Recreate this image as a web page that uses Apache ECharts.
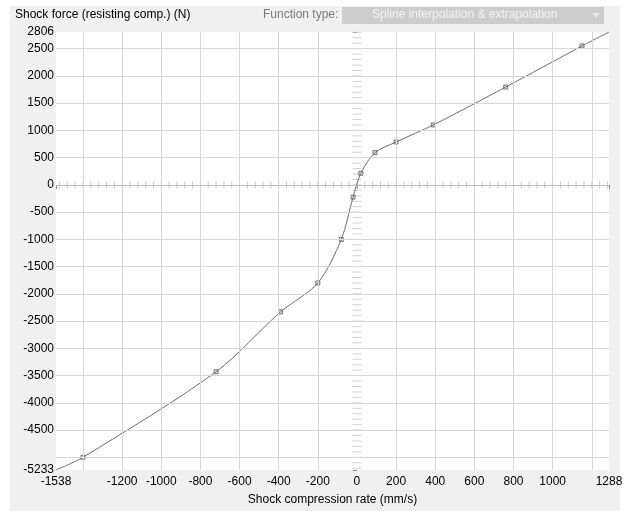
<!DOCTYPE html>
<html><head><meta charset="utf-8">
<script src="https://cdn.jsdelivr.net/npm/echarts@6/dist/echarts.min.js"></script>
<style>
html,body{margin:0;padding:0;background:#fff;}
#bg{position:absolute;left:10px;top:6px;width:610px;height:505px;background:#f0f0f0;}
#chart{position:absolute;left:0;top:0;width:630px;height:511px;}
</style></head>
<body>
<div id="bg"></div>
<div id="chart"></div>
<script>
// Data
const curveX = [-1538, -1400, -720, -390, -200, -80, -20, 20, 92, 200, 390, 760, 1150, 1288];
const curveY = [-5233, -5000, -3430, -2330, -1800, -1000, -225, 214, 591, 787, 1100, 1795, 2550, 2806];
const pointX = [-1400, -720, -390, -200, -80, -20, 20, 92, 200, 390, 760, 1150];
const pointY = [-5000, -3430, -2330, -1800, -1000, -225, 214, 591, 787, 1100, 1795, 2550];
const xLabels = [-1538, -1200, -1000, -800, -600, -400, -200, 0, 200, 400, 600, 800, 1000, 1288];
const yLabels = [2806, 2500, 2000, 1500, 1000, 500, 0, -500, -1000, -1500, -2000, -2500, -3000, -3500, -4000, -4500, -5233];
const xGrid = [-1400, -1200, -1000, -800, -600, -400, -200, 200, 400, 600, 800, 1000, 1200];
const yGrid = [2500, 2000, 1500, 1000, 500, -500, -1000, -1500, -2000, -2500, -3000, -3500, -4000, -4500, -5000];
const xMin = -1538, xMax = 1288, yMin = -5233, yMax = 2806;
const hTickStep = 40, vTickStep = 100;
const hTicks = []; for (let v = -1520; v <= 1280; v += hTickStep) hTicks.push(v);
const vTicks = []; for (let v = -5200; v <= 2800; v += vTickStep) vTicks.push(v);

const chart = echarts.init(document.getElementById('chart'));
const font = 'Liberation Sans, Arial, sans-serif';
chart.setOption({
  animation: false,
  backgroundColor: 'transparent',
  textStyle: {fontFamily: font},
  graphic: [
    {type: 'text', left: 15, top: 9, style: {text: 'Shock force (resisting comp.) (N)', fill: '#000', font: '12px ' + font}},
    {type: 'text', left: 263, top: 9, style: {text: 'Function type:', fill: '#7a7a7a', font: '12px ' + font}},
    {type: 'rect', left: 342, top: 7, shape: {width: 262, height: 17}, style: {fill: '#cdcdcd'}},
    {type: 'text', left: 372, top: 9, style: {text: 'Spline interpolation & extrapolation', fill: '#f2f2f2', font: '12px ' + font}},
    {type: 'polygon', shape: {points: [[592, 13], [600, 13], [596, 18]]}, style: {fill: '#e6e6e6'}}
  ],
  grid: {left: 56, right: 21, top: 32, bottom: 40, show: true, backgroundColor: '#fff', borderWidth: 0},
  xAxis: {
    type: 'value', min: xMin, max: xMax,
    name: 'Shock compression rate (mm/s)', nameLocation: 'middle', nameGap: 24,
    nameTextStyle: {color: '#000', fontSize: 12, fontFamily: font},
    axisLine: {show: false},
    axisTick: {show: true, length: 4, customValues: xLabels, lineStyle: {color: '#888'}},
    axisLabel: {customValues: xLabels, color: '#000', fontSize: 12, margin: 6, fontFamily: font, formatter: v => String(v)},
    splitLine: {show: false}
  },
  yAxis: {
    type: 'value', min: yMin, max: yMax,
    axisLine: {show: false},
    axisTick: {show: true, length: 4, customValues: yLabels, lineStyle: {color: '#888'}},
    axisLabel: {customValues: yLabels, color: '#000', fontSize: 12, margin: 2, fontFamily: font, formatter: v => String(v)},
    splitLine: {show: false}
  },
  series: [
    {
      type: 'line', data: [], silent: true,
      markLine: {
        silent: true, symbol: 'none', label: {show: false}, animation: false,
        lineStyle: {color: '#d6d6d6', type: 'solid', width: 1},
        data: xGrid.map(v => ({xAxis: v})).concat(yGrid.map(v => ({yAxis: v})))
          .concat([{yAxis: 0, lineStyle: {color: '#bdbdbd'}}])
      }
    },
    {
      type: 'scatter', silent: true, symbol: 'rect', symbolSize: [1, 7],
      itemStyle: {color: '#bdbdbd'},
      data: hTicks.map(v => [v, 0])
    },
    {
      type: 'scatter', silent: true, symbol: 'rect', symbolSize: [9, 1],
      itemStyle: {color: '#c4c4c4'},
      data: vTicks.map(v => [0, v])
    },
    {
      type: 'line', silent: true, smooth: 0.3, showSymbol: false,
      lineStyle: {color: '#6e6e6e', width: 1},
      data: curveX.map((x, i) => [x, curveY[i]])
    },
    {
      type: 'scatter', silent: true, symbol: 'rect', symbolSize: 4,
      itemStyle: {color: '#e0e0e0', borderColor: '#555', borderWidth: 1},
      data: pointX.map((x, i) => [x, pointY[i]])
    }
  ]
});
</script>
</body></html>
